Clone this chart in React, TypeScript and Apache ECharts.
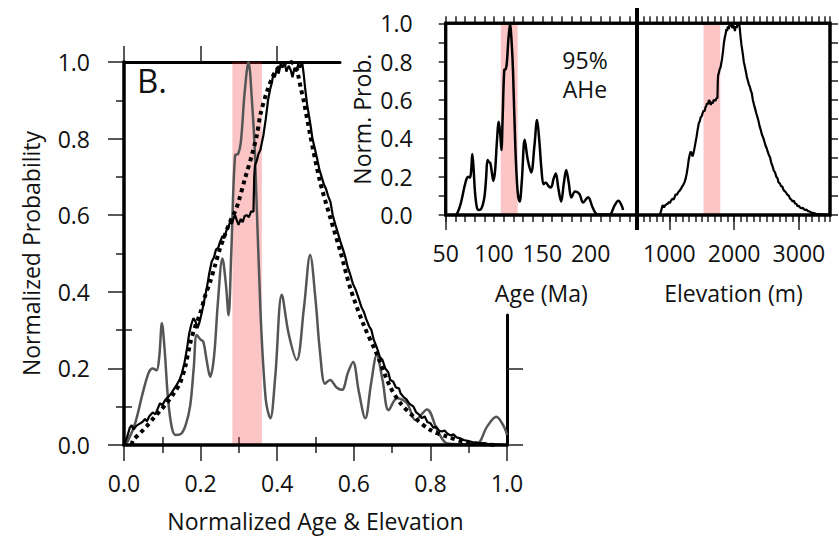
import React, { useEffect, useRef } from "react";
import * as echarts from "echarts";

// Age probability density (AHe), normalised age on x, normalised probability on y
const ageX = [
  0.0, 0.01, 0.03, 0.05, 0.065, 0.075, 0.085, 0.092, 0.099, 0.106, 0.115, 0.125, 0.135, 0.15, 0.162,
  0.173, 0.182, 0.19, 0.2, 0.207, 0.216, 0.225, 0.235, 0.245, 0.257, 0.266, 0.273, 0.28, 0.29, 0.298,
  0.305, 0.315, 0.325, 0.334, 0.342, 0.356, 0.37, 0.382, 0.395, 0.412, 0.43, 0.451, 0.47, 0.486, 0.5,
  0.512, 0.525, 0.538, 0.555, 0.569, 0.585, 0.598, 0.613, 0.63, 0.645, 0.66, 0.675, 0.691, 0.713,
  0.739, 0.761, 0.791, 0.818, 0.844, 0.88, 0.92, 0.948, 0.972, 0.992, 1.0,
];
const ageP = [
  0.0, 0.01, 0.06, 0.14, 0.19, 0.2, 0.195, 0.23, 0.318, 0.25, 0.12, 0.045, 0.026, 0.03, 0.055,
  0.104, 0.2, 0.287, 0.275, 0.27, 0.22, 0.178, 0.23, 0.37, 0.487, 0.42, 0.339, 0.5, 0.757, 0.76,
  0.79, 0.92, 1.0, 0.9, 0.757, 0.357, 0.12, 0.07, 0.18, 0.392, 0.29, 0.222, 0.36, 0.496, 0.38,
  0.24, 0.16, 0.17, 0.15, 0.144, 0.19, 0.217, 0.14, 0.07, 0.16, 0.235, 0.17, 0.091, 0.122,
  0.109, 0.065, 0.093, 0.039, 0.004, 0.002, 0.002, 0.048, 0.074, 0.048, 0.026,
];

// Hypsometry (elevation distribution), normalised elevation on x
const elevX = [
  0.0, 0.008, 0.015, 0.02, 0.025, 0.032, 0.04, 0.048, 0.055, 0.06, 0.066, 0.075, 0.082, 0.088, 0.094,
  0.1, 0.108, 0.115, 0.122, 0.129, 0.138, 0.145, 0.151, 0.158, 0.165, 0.17, 0.175, 0.181, 0.187,
  0.192, 0.197, 0.203, 0.208, 0.212, 0.216, 0.222, 0.229, 0.235, 0.24, 0.246, 0.251, 0.257, 0.262,
  0.268, 0.273, 0.277, 0.282, 0.287, 0.29, 0.295, 0.299, 0.305, 0.31, 0.315, 0.32, 0.326, 0.332,
  0.338, 0.34, 0.342, 0.346, 0.351, 0.356, 0.36, 0.364, 0.37, 0.376, 0.382, 0.386, 0.39, 0.394,
  0.399, 0.404, 0.409, 0.414, 0.419, 0.424, 0.43, 0.435, 0.44, 0.445, 0.45, 0.455, 0.46, 0.465,
  0.469, 0.473, 0.478, 0.483, 0.487, 0.492, 0.498, 0.504, 0.51, 0.516, 0.522, 0.527, 0.533, 0.539,
  0.545, 0.552, 0.558, 0.565, 0.572, 0.578, 0.584, 0.591, 0.598, 0.605, 0.612, 0.62, 0.626, 0.632,
  0.64, 0.646, 0.652, 0.661, 0.668, 0.675, 0.682, 0.69, 0.695, 0.703, 0.71, 0.718, 0.722, 0.73,
  0.737, 0.745, 0.756, 0.763, 0.77, 0.778, 0.785, 0.792, 0.8, 0.808, 0.815, 0.822, 0.83, 0.837,
  0.844, 0.852, 0.86, 0.868, 0.876, 0.887, 0.9, 0.915, 0.93, 0.95, 0.97, 1.0,
];
const elevP = [
  0.0, 0.02, 0.045, 0.052, 0.04, 0.05, 0.055, 0.06, 0.068, 0.062, 0.075, 0.085, 0.08, 0.095, 0.109,
  0.104, 0.118, 0.125, 0.133, 0.144, 0.158, 0.17, 0.187, 0.215, 0.255, 0.29, 0.312, 0.331, 0.322,
  0.305, 0.32, 0.345, 0.37, 0.39, 0.409, 0.445, 0.479, 0.49, 0.51, 0.515, 0.531, 0.545, 0.54,
  0.562, 0.57, 0.583, 0.578, 0.595, 0.6, 0.585, 0.575, 0.59, 0.582, 0.598, 0.6, 0.595, 0.61,
  0.609, 0.7, 0.73, 0.74, 0.76, 0.77, 0.79, 0.809, 0.85, 0.9, 0.931, 0.945, 0.97, 0.96,
  0.983, 0.97, 0.995, 0.985, 1.0, 0.975, 0.99, 0.98, 0.96, 0.985, 0.975, 0.995, 0.985, 1.0,
  0.97, 0.931, 0.89, 0.86, 0.835, 0.8, 0.775, 0.749, 0.72, 0.7, 0.68, 0.67, 0.65, 0.635,
  0.6, 0.575, 0.555, 0.531, 0.51, 0.49, 0.465, 0.444, 0.42, 0.405, 0.385, 0.36, 0.348, 0.33,
  0.31, 0.3, 0.275, 0.252, 0.23, 0.222, 0.2, 0.19, 0.17, 0.165, 0.15, 0.148, 0.135, 0.125,
  0.12, 0.108, 0.1, 0.085, 0.08, 0.07, 0.075, 0.06, 0.057, 0.045, 0.048, 0.038, 0.035, 0.038,
  0.03, 0.025, 0.028, 0.02, 0.018, 0.013, 0.01, 0.006, 0.005, 0.003, 0.002, 0.0,
];

// Fitted distribution (dotted)
const fitX = [
  0.02, 0.024, 0.042, 0.06, 0.077, 0.095, 0.111, 0.13, 0.146, 0.16, 0.173, 0.186, 0.199, 0.212,
  0.225, 0.238, 0.251, 0.264, 0.277, 0.29, 0.299, 0.316, 0.334, 0.347, 0.356, 0.373, 0.395, 0.416,
  0.435, 0.45, 0.456, 0.462, 0.469, 0.486, 0.512, 0.539, 0.565, 0.591, 0.626, 0.661, 0.695, 0.722,
  0.756, 0.8, 0.844, 0.887, 0.93, 0.97,
];
const fitP = [
  0.0, 0.013, 0.031, 0.05, 0.07, 0.09, 0.109, 0.135, 0.161, 0.205, 0.266, 0.31, 0.344, 0.39,
  0.426, 0.47, 0.514, 0.55, 0.583, 0.61, 0.635, 0.696, 0.757, 0.81, 0.862, 0.922, 0.975, 0.995,
  1.0, 0.985, 0.96, 0.93, 0.9, 0.81, 0.687, 0.592, 0.505, 0.409, 0.313, 0.235, 0.152, 0.109,
  0.074, 0.039, 0.022, 0.008, 0.003, 0.0,
];

// Real-unit ranges behind the normalisation
const AGE_RANGE = [60.4, 233.6]; // Ma
const ELEV_RANGE = [850, 3490]; // m

// Axis extents
const NORM_EXTENT = [0, 1];
const AGE_EXTENT = [50, 248];
const ELEV_EXTENT = [500, 3480];
const PROB_EXTENT = [0, 1];

// Highlighted intervals
const bandNorm = [0.283, 0.36];
const bandAge = [107, 124.5];
const bandElev = [1527, 1786];

const FONT = "'Open Sans', 'DejaVu Sans', sans-serif";
const BAND_COLOR = "rgba(240,40,40,0.27)";

const txt = () => ({ fontFamily: FONT, fontSize: 23, color: "#111" });
const axisLine = () => ({ show: true, onZero: false, lineStyle: { color: "#000", width: 3, type: "solid" } });
const noLine = () => ({ show: false });
const tick = () => ({ color: "#222", width: 1.5 });
const noSplit = () => ({ show: false });

const zip = (xs: number[], ys: number[], f = (v: number) => v) => xs.map((x, i) => [f(x), ys[i]]);
const toAge = (x: number) => AGE_RANGE[0] + x * (AGE_RANGE[1] - AGE_RANGE[0]);
const toElev = (x: number) => ELEV_RANGE[0] + x * (ELEV_RANGE[1] - ELEV_RANGE[0]);

// plot frames (pixels)
const MAIN = { left: 124, top: 62, width: 383, height: 383 };
const TOP_SPAN = 216 / MAIN.width; // visible part of the upper frame
const RIGHT_SPAN = 130 / MAIN.height; // visible part of the right frame
const INSET_AGE = { left: 445.7, top: 23.3, width: 191.3, height: 191.7 };
const INSET_ELEV = { left: 637, top: 23.3, width: 193, height: 191.7 };

function band(xi: number, yi: number, range: number[]) {
  return {
    type: "line",
    xAxisIndex: xi,
    yAxisIndex: yi,
    data: [],
    z: 10,
    silent: true,
    markArea: {
      silent: true,
      itemStyle: { color: BAND_COLOR },
      data: [[{ xAxis: range[0] }, { xAxis: range[1] }]],
    },
  };
}

function curve(xi: number, yi: number, data: number[][], color: string, width: number, extra: any = {}) {
  return {
    type: "line",
    xAxisIndex: xi,
    yAxisIndex: yi,
    data,
    showSymbol: false,
    symbol: "none",
    lineStyle: { color, width },
    ...extra,
  };
}

// frame edges traced along the axis extents
function frame(xi: number, yi: number, xs: number[], ys: number[], corners: number[][]) {
  return {
    type: "line",
    xAxisIndex: xi,
    yAxisIndex: yi,
    data: corners.map(([i, j]) => [xs[i], ys[j]]),
    showSymbol: false,
    symbol: "none",
    clip: false,
    silent: true,
    z: 1000,
    lineStyle: { color: "#000", width: 3, join: "miter", cap: "square" },
  };
}

// an axis that only carries a set of ticks (and optionally its line)
function tickAxis(grid: number, pos: string, min: number, max: number, ticks: number[] | null, interval: number | null, len: number, line: boolean) {
  const ax: any = {
    gridIndex: grid, type: "value", position: pos, min, max,
    axisLine: line ? axisLine() : noLine(),
    axisTick: { length: len, lineStyle: tick() },
    axisLabel: { show: false }, splitLine: noSplit(),
  };
  if (ticks) ax.axisTick.customValues = ticks;
  if (interval) ax.interval = interval;
  return ax;
}

const edgeRect = (g: { left: number; top: number; width: number; height: number }) => ({
  type: "rect",
  z: 1000,
  silent: true,
  shape: { x: g.left, y: g.top, width: g.width, height: g.height },
  style: { stroke: "#000", lineWidth: 3, fill: "rgba(0,0,0,0)" },
});

export default function App() {
  const ref = useRef<HTMLDivElement>(null);

  useEffect(() => {
    if (!ref.current) return;
    const chart = echarts.init(ref.current, null, { renderer: "svg" });

    const option = {
      animation: false,
      backgroundColor: "#fff",
      textStyle: { fontFamily: FONT },
      grid: [
        { ...MAIN },
        { left: MAIN.left, top: MAIN.top, width: 216, height: MAIN.height },
        { left: MAIN.left, top: 315, width: MAIN.width, height: 130 },
        { ...INSET_AGE },
        { ...INSET_ELEV },
      ],
      xAxis: [
        // 0: main bottom
        {
          gridIndex: 0, type: "value", position: "bottom", min: NORM_EXTENT[0], max: NORM_EXTENT[1], interval: 0.2,
          axisLine: noLine(),
          axisTick: { length: 16, lineStyle: tick() },
          minorTick: { show: true, splitNumber: 2, length: 8, lineStyle: tick() },
          splitLine: noSplit(),
          axisLabel: { ...txt(), margin: 26, formatter: (v: number) => v.toFixed(1) },
          name: "Normalized Age & Elevation",
          nameLocation: "middle",
          nameGap: 64,
          nameTextStyle: txt(),
        },
        // 1, 2: main top frame (long / short ticks)
        tickAxis(1, "top", 0, TOP_SPAN, [0, 0.2, 0.4], null, 16, true),
        tickAxis(1, "top", 0, TOP_SPAN, [0.1, 0.3, 0.5], null, 8, false),
        // 3: helper for right frame grid
        { gridIndex: 2, type: "value", show: false, min: 0, max: 1, splitLine: noSplit() },
        // 4: age bottom
        {
          gridIndex: 3, type: "value", position: "bottom", min: AGE_EXTENT[0], max: AGE_EXTENT[1], interval: 10,
          axisLine: noLine(),
          axisTick: { length: 7, lineStyle: tick() },
          splitLine: noSplit(),
          axisLabel: {
            ...txt(), margin: 26,
            formatter: (v: number) => (v % 50 === 0 && v <= 200 ? String(v) : ""),
          },
          name: "Age (Ma)", nameLocation: "middle", nameGap: 66, nameTextStyle: txt(),
        },
        // 5: age bottom, long tick at the frame corner
        tickAxis(3, "bottom", AGE_EXTENT[0], AGE_EXTENT[1], [50], null, 15, false),
        // 6: age top
        tickAxis(3, "top", AGE_EXTENT[0], AGE_EXTENT[1], null, 10, 7, false),
        // 7: elevation bottom
        {
          gridIndex: 4, type: "value", position: "bottom", min: ELEV_EXTENT[0], max: ELEV_EXTENT[1], interval: 100,
          axisLine: noLine(),
          axisTick: { length: 7, lineStyle: tick() },
          splitLine: noSplit(),
          axisLabel: {
            ...txt(), margin: 26,
            formatter: (v: number) => (v % 1000 === 0 ? String(v) : ""),
          },
          name: "Elevation (m)", nameLocation: "middle", nameGap: 66, nameTextStyle: txt(),
        },
        // 8: elevation bottom, long ticks
        tickAxis(4, "bottom", ELEV_EXTENT[0], ELEV_EXTENT[1], [1000, 2000, 3000], null, 15, false),
        // 9: elevation top
        tickAxis(4, "top", ELEV_EXTENT[0], ELEV_EXTENT[1], null, 100, 7, false),
      ],
      yAxis: [
        // 0: main left
        {
          gridIndex: 0, type: "value", position: "left", min: PROB_EXTENT[0], max: PROB_EXTENT[1], interval: 0.2,
          axisLine: noLine(),
          axisTick: { length: 16, lineStyle: tick() },
          minorTick: { show: true, splitNumber: 2, length: 8, lineStyle: tick() },
          splitLine: noSplit(),
          axisLabel: { ...txt(), margin: 34, formatter: (v: number) => v.toFixed(1) },
          name: "Normalized Probability",
          nameLocation: "middle",
          nameGap: 82,
          nameTextStyle: txt(),
        },
        // 1: helper for top frame grid
        { gridIndex: 1, type: "value", show: false, min: 0, max: 1, splitLine: noSplit() },
        // 2, 3: main right frame (long / short ticks)
        tickAxis(2, "right", 0, RIGHT_SPAN, [0, 0.2], null, 16, true),
        tickAxis(2, "right", 0, RIGHT_SPAN, [0.1, 0.3], null, 8, false),
        // 4: age left
        {
          gridIndex: 3, type: "value", position: "left", min: PROB_EXTENT[0], max: PROB_EXTENT[1], interval: 0.2,
          axisLine: noLine(),
          axisTick: { length: 7, lineStyle: tick() },
          minorTick: { show: true, splitNumber: 2, length: 7, lineStyle: tick() },
          splitLine: noSplit(),
          axisLabel: { ...txt(), margin: 33, formatter: (v: number) => v.toFixed(1) },
          name: "Norm. Prob.",
          nameLocation: "middle",
          nameGap: 72,
          nameTextStyle: txt(),
        },
        // 5: elevation right
        tickAxis(4, "right", PROB_EXTENT[0], PROB_EXTENT[1], null, 0.1, 8, false),
      ],
      series: [
        curve(0, 0, zip(ageX, ageP), "#555", 2.5, { smooth: 0.35, z: 2 }),
        curve(0, 0, zip(fitX, fitP), "#000", 4, {
          smooth: 0.3, z: 3,
          lineStyle: { color: "#000", width: 4, type: [4, 4], cap: "butt" },
        }),
        curve(0, 0, zip(elevX, elevP), "#000", 2.2, { z: 4 }),
        band(0, 0, bandNorm),
        curve(4, 4, zip(ageX, ageP, toAge), "#000", 2.5, { smooth: 0.35, z: 3 }),
        band(4, 4, bandAge),
        curve(7, 5, zip(elevX, elevP, toElev), "#000", 2.2, { z: 3 }),
        band(7, 5, bandElev),
        // frames: main (left + bottom), age panel, elevation panel
        frame(0, 0, NORM_EXTENT, PROB_EXTENT, [[0, 1], [0, 0], [1, 0]]),
        frame(4, 4, AGE_EXTENT, PROB_EXTENT, [[1, 1], [0, 1], [0, 0], [1, 0]]),
        frame(7, 5, ELEV_EXTENT, PROB_EXTENT, [[0, 1], [1, 1], [1, 0], [0, 0]]),
      ],
      graphic: [
        {
          type: "polyline",
          z: 1000,
          silent: true,
          shape: {
            points: [
              [MAIN.left, MAIN.top],
              [MAIN.left, MAIN.top + MAIN.height],
              [MAIN.left + MAIN.width, MAIN.top + MAIN.height],
            ],
          },
          style: { stroke: "#000", lineWidth: 3, fill: null },
        },
        edgeRect(INSET_AGE),
        edgeRect(INSET_ELEV),
        // divider between the two inset panels
        {
          type: "line",
          z: 1000,
          silent: true,
          shape: { x1: INSET_ELEV.left, y1: 8, x2: INSET_ELEV.left, y2: 230 },
          style: { stroke: "#000", lineWidth: 4 },
        },
        {
          type: "text",
          left: 137,
          top: 64,
          style: { text: "B.", fontFamily: FONT, fontSize: 33, fill: "#111" },
        },
        {
          type: "text",
          x: 585,
          y: 45,
          style: {
            text: "95%\nAHe",
            fontFamily: FONT,
            fontSize: 23,
            lineHeight: 29,
            fill: "#111",
            align: "center",
          },
        },
      ],
    };

    chart.setOption(option as any);
    return () => chart.dispose();
  }, []);

  return (
    <div
      ref={ref}
      style={{ position: "fixed", left: 0, top: 0, width: 839, height: 544, background: "#fff" }}
    />
  );
}
